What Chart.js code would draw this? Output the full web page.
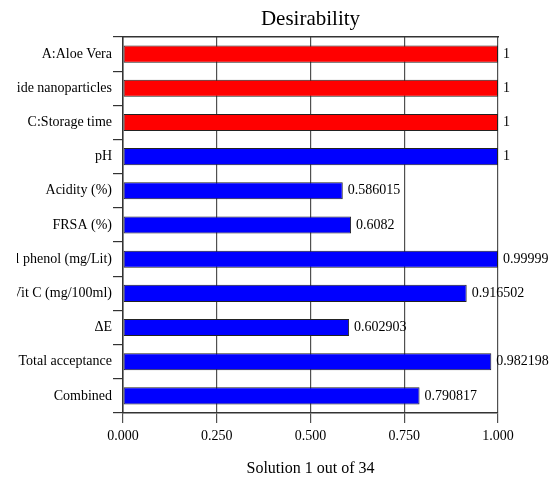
<!DOCTYPE html>
<html>
<head>
<meta charset="utf-8">
<script src="https://cdn.jsdelivr.net/npm/chart.js@4"></script>
<style>
  html, body { margin: 0; padding: 0; background: #ffffff; }
  #wrap { width: 551px; height: 477px; position: relative; }
</style>
</head>
<body>
<div id="wrap"><canvas id="c"></canvas></div>
<script>
// Factors and responses of the optimisation, with their desirability scores
const categories = [
  'A:Aloe Vera',
  'B:Zinc oxide nanoparticles',
  'C:Storage time',
  'pH',
  'Acidity (%)',
  'FRSA (%)',
  'Total phenol (mg/Lit)',
  'Vit C (mg/100ml)',
  '\u0394E',
  'Total acceptance',
  'Combined'
];
const desirability = [1, 1, 1, 1, 0.586015, 0.6082, 0.99999, 0.916502, 0.602903, 0.982198, 0.790817];
const factorCount = 3; // first rows are the input factors
const xTicks = [0, 0.25, 0.5, 0.75, 1];

const serif = "'Liberation Serif', 'Times New Roman', serif";

// Long row names are cut off at a fixed left margin
const labelMargin = {
  id: 'labelMargin',
  beforeDraw(chart) {
    const ctx = chart.ctx;
    ctx.save();
    ctx.beginPath();
    ctx.rect(17, 0, chart.width, chart.height);
    ctx.clip();
  },
  afterDraw(chart) {
    chart.ctx.restore();
  }
};

// Writes each bar's value just past its end
const valueLabels = {
  id: 'valueLabels',
  afterDatasetsDraw(chart) {
    const ctx = chart.ctx;
    const meta = chart.getDatasetMeta(0);
    ctx.save();
    ctx.font = '14px ' + serif;
    ctx.fillStyle = '#000';
    ctx.textAlign = 'left';
    ctx.textBaseline = 'middle';
    meta.data.forEach((bar, i) => {
      ctx.fillText(String(desirability[i]), bar.x + 5, bar.y);
    });
    ctx.restore();
  }
};

new Chart(document.getElementById('c'), {
  type: 'bar',
  data: {
    labels: categories,
    datasets: [{
      data: desirability,
      backgroundColor: ctx => ctx.dataIndex < factorCount ? '#ff0000' : '#0000ff',
      borderColor: '#222',
      borderWidth: 1,
      borderSkipped: false,
      categoryPercentage: 1,
      barPercentage: 0.5
    }]
  },
  options: {
    indexAxis: 'y',
    responsive: true,
    maintainAspectRatio: false,
    animation: false,
    layout: { padding: { left: 0, right: 53, top: 0, bottom: 0 } },
    plugins: {
      legend: { display: false },
      tooltip: { enabled: false }
    },
    scales: {
      x: {
        type: 'linear',
        position: 'bottom',
        min: 0,
        max: 1,
        afterBuildTicks: axis => { axis.ticks = xTicks.map(v => ({ value: v })); },
        afterFit: axis => { axis.height = 64; },
        grid: {
          color: '#505050',
          lineWidth: 1.2,
          tickLength: 10,
          drawTicks: true
        },
        border: { display: true, color: '#333', width: 1.5 },
        ticks: {
          color: '#000',
          padding: 5,
          font: { family: serif, size: 14 },
          callback: v => v.toFixed(3)
        },
        title: {
          display: true,
          text: 'Solution 1 out of 34',
          color: '#000',
          font: { family: serif, size: 16, lineHeight: 1 },
          padding: { top: 0, bottom: 0 }
        }
      },
      x2: {
        type: 'linear',
        position: 'top',
        min: 0,
        max: 1,
        afterFit: axis => { axis.height = 37; },
        grid: { display: false, drawTicks: false },
        ticks: { display: false },
        border: { display: true, color: '#333', width: 1.5 },
        title: {
          display: true,
          text: 'Desirability',
          color: '#000',
          font: { family: serif, size: 21, lineHeight: 1 },
          padding: { top: 9, bottom: 0 }
        }
      },
      y: {
        type: 'category',
        position: 'left',
        offset: true,
        afterFit: axis => { axis.width = 123; },
        grid: {
          offset: true,
          drawOnChartArea: false,
          color: '#333',
          lineWidth: 1.2,
          tickLength: 10
        },
        border: { display: true, color: '#333', width: 1.5 },
        ticks: {
          color: '#000',
          padding: 1,
          autoSkip: false,
          font: { family: serif, size: 14 }
        }
      }
    }
  },
  plugins: [labelMargin, valueLabels]
});
</script>
</body>
</html>
